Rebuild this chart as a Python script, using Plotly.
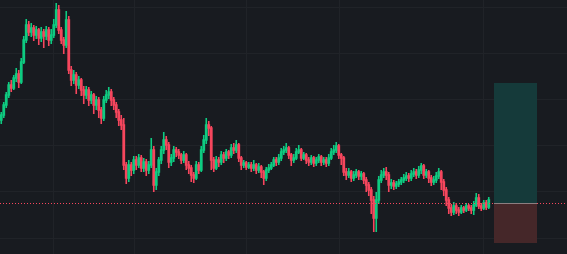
import plotly.graph_objects as go

# Price values (1 unit ≈ 1 px of the reference's price scale)
opens = [134,139,149,159,169,166,176,180,172,192,214,229,222,226,219,224,216,222,218,224,
         214,219,229,244,224,214,209,234,184,174,179,169,174,164,159,164,154,159,149,154,
         144,136,154,159,162,154,149,142,134,129,89,76,89,84,94,89,96,86,92,84,
         89,104,69,82,94,104,114,109,92,96,104,102,99,94,99,89,86,79,76,89,
         84,104,114,129,126,94,86,94,92,99,96,102,99,106,104,109,96,89,91,87,
         89,86,89,84,87,82,76,84,86,89,94,92,96,102,104,106,99,94,96,102,
         104,96,99,94,92,96,91,94,97,92,94,91,96,102,104,108,99,96,82,79,
         82,76,79,82,78,80,74,69,64,54,36,54,74,79,82,79,69,71,68,70,
         72,74,76,78,76,80,82,79,84,88,79,82,76,72,74,78,82,72,64,54,
         46,42,48,44,42,46,44,48,46,44,49,56,48,46,51,47]
closes = [139,149,159,169,166,176,180,172,192,214,229,222,226,219,224,216,222,218,224,214,
          219,229,244,224,214,209,234,184,174,179,169,174,164,159,164,154,159,149,154,144,
          136,154,159,162,154,149,142,134,129,89,76,89,84,94,89,96,86,92,84,89,
          104,69,82,94,104,114,109,92,96,104,102,99,94,99,89,86,79,76,89,84,
          104,114,129,126,94,86,94,92,99,96,102,99,106,104,109,96,89,91,87,89,
          86,89,84,87,82,76,84,86,89,94,92,96,102,104,106,99,94,96,102,104,
          96,99,94,92,96,91,94,97,92,94,91,96,102,104,108,99,96,82,79,82,
          76,79,82,78,80,74,69,64,54,36,54,74,79,82,79,69,71,68,70,72,
          74,76,78,76,80,82,79,84,88,79,82,76,72,74,78,82,72,64,54,46,
          42,48,44,42,46,44,48,46,44,49,56,48,46,51,47,54]
highs = [142,152,162,172,174,179,186,184,196,218,235,233,231,229,228,226,227,225,228,227,
         225,235,251,249,227,217,243,238,188,184,182,178,176,168,168,167,163,161,158,157,
         147,158,164,167,165,157,152,145,139,136,92,94,92,98,98,100,99,96,95,93,
         116,108,86,97,108,122,118,112,100,108,107,105,101,103,101,93,89,82,93,92,
         108,119,136,133,128,97,98,97,103,102,105,104,110,111,114,111,98,94,93,92,
         92,94,91,91,89,84,87,90,92,97,97,100,106,108,111,108,101,100,106,109,
         106,102,101,97,99,98,97,100,99,97,97,100,106,109,112,110,101,98,86,86,
         84,83,85,84,83,82,77,72,67,58,62,78,84,86,87,82,75,74,73,75,
         77,80,82,81,84,86,85,88,91,90,85,84,79,78,82,86,84,75,67,57,
         50,52,51,47,49,48,51,50,49,53,61,60,51,54,54,57]
lows = [130,136,146,156,162,164,172,166,170,190,211,218,217,213,215,209,212,206,214,208,
        210,216,226,220,210,200,206,180,168,170,160,165,158,150,155,148,150,140,144,136,
        130,133,151,155,148,144,136,128,124,84,70,72,78,80,84,86,82,82,78,80,
        86,62,64,78,90,100,104,86,88,92,97,95,90,91,84,80,72,71,74,80,
        82,101,110,118,84,82,84,87,89,91,93,95,96,100,101,92,84,86,84,85,
        82,83,80,81,76,69,73,81,84,87,88,89,93,99,101,95,88,91,94,100,
        93,94,90,88,89,87,88,91,88,89,87,88,94,99,101,95,89,78,74,76,
        72,73,76,74,74,70,62,58,40,22,22,50,71,76,74,62,65,64,65,67,
        69,71,73,72,73,77,75,76,80,75,76,71,68,69,71,75,64,58,48,40,
        38,39,40,38,40,41,42,43,40,39,47,45,43,44,44,45]

entry_price = 50.5
take_profit = 171
stop_loss = 11

BG = "#181b20"
GRID = "#202328"
UP = "#0ecb81"
DOWN = "#f6465d"

n = len(closes)
x = list(range(n))

fig = go.Figure()
fig.add_trace(go.Candlestick(
    x=x, open=opens, high=highs, low=lows, close=closes,
    increasing=dict(line=dict(color=UP, width=1.6), fillcolor=UP),
    decreasing=dict(line=dict(color=DOWN, width=1.6), fillcolor=DOWN),
    whiskerwidth=0, showlegend=False, hoverinfo="skip",
))

x_right = 567 / 2.5 - 0.5
box_x0 = 494 / 2.5 - 0.5
box_x1 = 537 / 2.5 - 0.5

# position tool boxes
fig.add_shape(type="rect", xref="x", yref="y", x0=box_x0, x1=box_x1,
              y0=entry_price, y1=take_profit, fillcolor="#153a3a",
              line=dict(width=0), layer="above")
fig.add_shape(type="rect", xref="x", yref="y", x0=box_x0, x1=box_x1,
              y0=stop_loss, y1=entry_price, fillcolor="#452729",
              line=dict(width=0), layer="above")
# dotted price line
fig.add_shape(type="line", xref="x", yref="y", x0=-0.5, x1=x_right,
              y0=entry_price, y1=entry_price,
              line=dict(color=DOWN, width=1, dash="1px,2px"))
fig.add_shape(type="line", xref="x", yref="y", x0=box_x0, x1=box_x1,
              y0=entry_price, y1=entry_price,
              line=dict(color="#8c7e80", width=1))

grid_x = [20.7, 53.3, 97.9, 135.1, 192.7]

fig.update_layout(
    width=567, height=254,
    margin=dict(l=0, r=0, t=0, b=0),
    paper_bgcolor=BG, plot_bgcolor=BG,
    xaxis=dict(range=[-0.5, x_right], rangeslider=dict(visible=False),
               showticklabels=False, tickvals=grid_x, showgrid=True,
               gridcolor=GRID, gridwidth=1, zeroline=False, showline=False,
               ticks=""),
    yaxis=dict(range=[0, 254], showticklabels=False, tick0=16, dtick=46.2,
               showgrid=True, gridcolor=GRID, gridwidth=1, zeroline=False,
               showline=False, ticks=""),
)

fig.write_html("out.html")
